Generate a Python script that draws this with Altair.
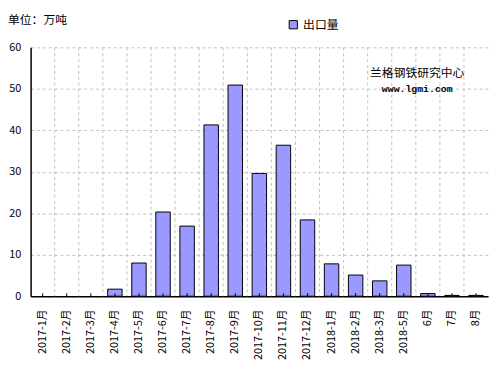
import altair as alt
import pandas as pd

categories = ["2017-1月", "2017-2月", "2017-3月", "2017-4月", "2017-5月", "2017-6月",
              "2017-7月", "2017-8月", "2017-9月", "2017-10月", "2017-11月", "2017-12月",
              "2018-1月", "2018-2月", "2018-3月", "2018-5月", "6月", "7月", "8月"]
values = [0, 0, 0, 1.7, 8.0, 20.3, 16.9, 41.3, 50.9, 29.6, 36.4, 18.4,
          7.8, 5.1, 3.7, 7.5, 0.64, 0.2, 0.2]
series_name = "出口量"
y_ticks = [0, 10, 20, 30, 40, 50, 60]
unit_text = ["单位：万吨"]
watermark_lines = ["兰格钢铁研究中心", "www.lgmi.com"]

df = pd.DataFrame({"cat": categories, "value": values, "series": series_name})

W, H = 465, 253
FONT = "Noto Sans CJK SC"

xscale = alt.Scale(domain=categories, paddingInner=0.4, paddingOuter=0.2)

grid = alt.Chart(pd.DataFrame({"cat": categories[1:]})).mark_rule(
    color="#c0c0c0", strokeDash=[3, 3], strokeWidth=1
).encode(
    x=alt.X("cat:N", bandPosition=0, sort=categories,
            scale=alt.Scale(domain=categories, paddingInner=0, paddingOuter=0), axis=None),
    y=alt.value(0), y2=alt.value(H),
)

bars = alt.Chart(df).mark_bar(stroke="black", strokeWidth=1, opacity=1).encode(
    x=alt.X("cat:N", sort=categories, scale=xscale,
            axis=alt.Axis(title=None, labelAngle=270, ticks=False, grid=False,
                          domainColor="black", domainWidth=1.5, labelPadding=13,
                          labelFont=FONT, labelFontSize=11, labelColor="black")),
    y=alt.Y("value:Q", scale=alt.Scale(domain=[0, 60], nice=False),
            axis=alt.Axis(values=y_ticks, title=None, grid=True, gridDash=[3, 3],
                          gridColor="#c0c0c0", ticks=False, domainColor="black",
                          domainWidth=1.5, labelPadding=10, labelFont=FONT,
                          labelFontSize=11, labelColor="black")),
    color=alt.Color("series:N", scale=alt.Scale(domain=[series_name], range=["#9999FF"]),
                    legend=alt.Legend(title=None, orient="none", legendX=261, legendY=-29,
                                      symbolType="square", symbolStrokeColor="black",
                                      symbolStrokeWidth=1, symbolSize=70,
                                      labelFont=FONT, labelFontSize=12, labelColor="black")),
    strokeOpacity=alt.condition("datum.value > 0", alt.value(1), alt.value(0)),
)

ticks = alt.Chart(df).mark_rule(color="black", strokeWidth=1).encode(
    x=alt.X("cat:N", sort=categories, scale=xscale, axis=None),
    y=alt.value(H), y2=alt.value(H - 3),
)

unit = alt.Chart(pd.DataFrame({"t": unit_text})).mark_text(
    align="left", baseline="middle", font=FONT, fontSize=12, color="black"
).encode(text="t:N", x=alt.value(-23), y=alt.value(-28))

wm1 = alt.Chart(pd.DataFrame({"t": watermark_lines[:1]})).mark_text(
    align="center", baseline="middle", font=FONT, fontSize=12, color="black"
).encode(text="t:N", x=alt.value(393), y=alt.value(26))

wm2 = alt.Chart(pd.DataFrame({"t": watermark_lines[1:]})).mark_text(
    align="center", baseline="middle", font="Liberation Mono", fontSize=10,
    fontWeight="bold", color="black"
).encode(text="t:N", x=alt.value(393), y=alt.value(42))

chart = alt.layer(grid, bars, ticks, unit, wm1, wm2).resolve_scale(x="independent").properties(
    width=W, height=H,
    autosize=alt.AutoSizeParams(type="none"),
    padding={"left": 23, "top": 37, "right": 3, "bottom": 70},
).configure_view(stroke=None)

chart.save("out.html", embed_options={"renderer": "svg", "actions": False})
